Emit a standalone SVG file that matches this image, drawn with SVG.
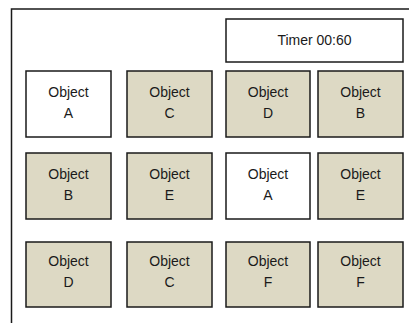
<svg xmlns="http://www.w3.org/2000/svg" width="409" height="323" viewBox="0 0 409 323">
<style>
.box{stroke:#1a1a1a;stroke-width:1.5}
.tan{fill:#ddd9c4}
.wht{fill:#ffffff}
text{font-family:"Liberation Sans",Arial,sans-serif;font-size:14px;fill:#1a1a1a;text-anchor:middle}
</style>
<rect x="0" y="0" width="409" height="323" fill="#ffffff"/>
<rect id="frame" x="11.5" y="9" width="420" height="340" fill="none" stroke="#1a1a1a" stroke-width="1.5"/>
<g id="timer"><rect class="box wht" x="226" y="19" width="177" height="43"/><text x="314.5" y="45">Timer 00:60</text></g>
<g id="r1c1"><rect class="box wht" x="26" y="71" width="85" height="66"/><text x="68.5" y="97">Object</text><text x="68.5" y="118">A</text></g>
<g id="r1c2"><rect class="box tan" x="127" y="71" width="85" height="66"/><text x="169.5" y="97">Object</text><text x="169.5" y="118">C</text></g>
<g id="r1c3"><rect class="box tan" x="226" y="71" width="84" height="66"/><text x="268" y="97">Object</text><text x="268" y="118">D</text></g>
<g id="r1c4"><rect class="box tan" x="318" y="71" width="85" height="66"/><text x="360.5" y="97">Object</text><text x="360.5" y="118">B</text></g>
<g id="r2c1"><rect class="box tan" x="26" y="153" width="85" height="66"/><text x="68.5" y="179">Object</text><text x="68.5" y="200">B</text></g>
<g id="r2c2"><rect class="box tan" x="127" y="153" width="85" height="66"/><text x="169.5" y="179">Object</text><text x="169.5" y="200">E</text></g>
<g id="r2c3"><rect class="box wht" x="226" y="153" width="84" height="66"/><text x="268" y="179">Object</text><text x="268" y="200">A</text></g>
<g id="r2c4"><rect class="box tan" x="318" y="153" width="85" height="66"/><text x="360.5" y="179">Object</text><text x="360.5" y="200">E</text></g>
<g id="r3c1"><rect class="box tan" x="26" y="242" width="85" height="65"/><text x="68.5" y="266">Object</text><text x="68.5" y="287">D</text></g>
<g id="r3c2"><rect class="box tan" x="127" y="242" width="85" height="65"/><text x="169.5" y="266">Object</text><text x="169.5" y="287">C</text></g>
<g id="r3c3"><rect class="box tan" x="226" y="242" width="84" height="65"/><text x="268" y="266">Object</text><text x="268" y="287">F</text></g>
<g id="r3c4"><rect class="box tan" x="318" y="242" width="85" height="65"/><text x="360.5" y="266">Object</text><text x="360.5" y="287">F</text></g>
<g id="connectors"></g>
</svg>
